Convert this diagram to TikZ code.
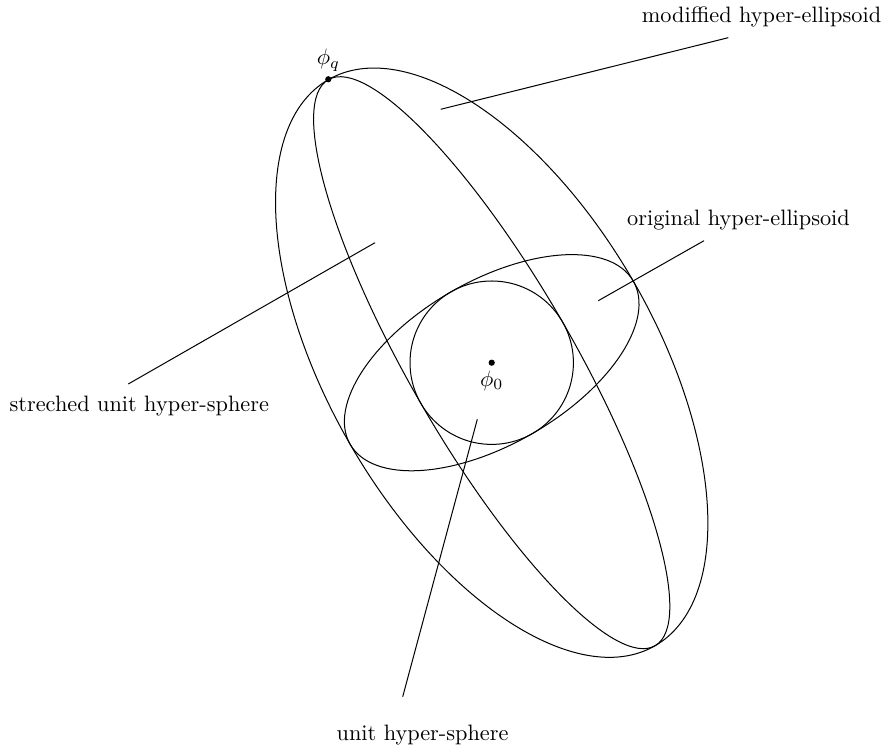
\documentclass[tikz,border=0pt]{standalone}
\begin{document}
\begin{tikzpicture}[x=0.4485pt,y=0.4485pt,
  curve/.style={draw=black, line width=0.45pt},
  leader/.style={draw=black, line width=0.45pt},
  lbl/.style={anchor=base, inner sep=0pt},
  dotnode/.style={circle, fill=black, inner sep=0pt, minimum size=2.8pt}]
\useasboundingbox (0,0) rectangle (887,749);
% centre and points
\node[dotnode] (c) at (491.7,386.3) {};
\node[dotnode] (q) at (328.3,669.7) {};
% unit hyper-sphere
\draw[curve] (c.center) circle [radius=81.7];
% original hyper-ellipsoid
\draw[curve, shift={(c.center)}, rotate=30] (0,0) ellipse [x radius=163.4, y radius=81.7];
% streched unit hyper-sphere
\draw[curve, shift={(c.center)}, rotate=120] (0,0) ellipse [x radius=326.8, y radius=81.7];
% modified hyper-ellipsoid
\draw[curve, shift={(c.center)}, rotate=120] (0,0) ellipse [x radius=326.8, y radius=163.4];
% labels
\node[lbl] (lmod) at (761.5,726.3) {modiffied hyper-ellipsoid};
\node[lbl] (lorig) at (738.5,523) {original hyper-ellipsoid};
\node[lbl] (lstr) at (139.3,337.3) {streched unit hyper-sphere};
\node[lbl] (lunit) at (422.6,9) {unit hyper-sphere};
\node[lbl] (lq) at (328.5,684) {$\phi_q$};
\node[lbl] (l0) at (491.7,362.6) {$\phi_0$};
% leader end points
\coordinate (mIn) at (440.7,639.7);
\coordinate (mOut) at (728.3,711.3);
\coordinate (oIn) at (598.3,448.3);
\coordinate (oOut) at (704,508.3);
\coordinate (sIn) at (375,506.3);
\coordinate (sOut) at (128.3,365);
\coordinate (uIn) at (477.3,329.7);
\coordinate (uOut) at (402.7,52.3);
\draw[leader] (mIn) -- (mOut);
\draw[leader] (oIn) -- (oOut);
\draw[leader] (sIn) -- (sOut);
\draw[leader] (uIn) -- (uOut);
\end{tikzpicture}
\end{document}
